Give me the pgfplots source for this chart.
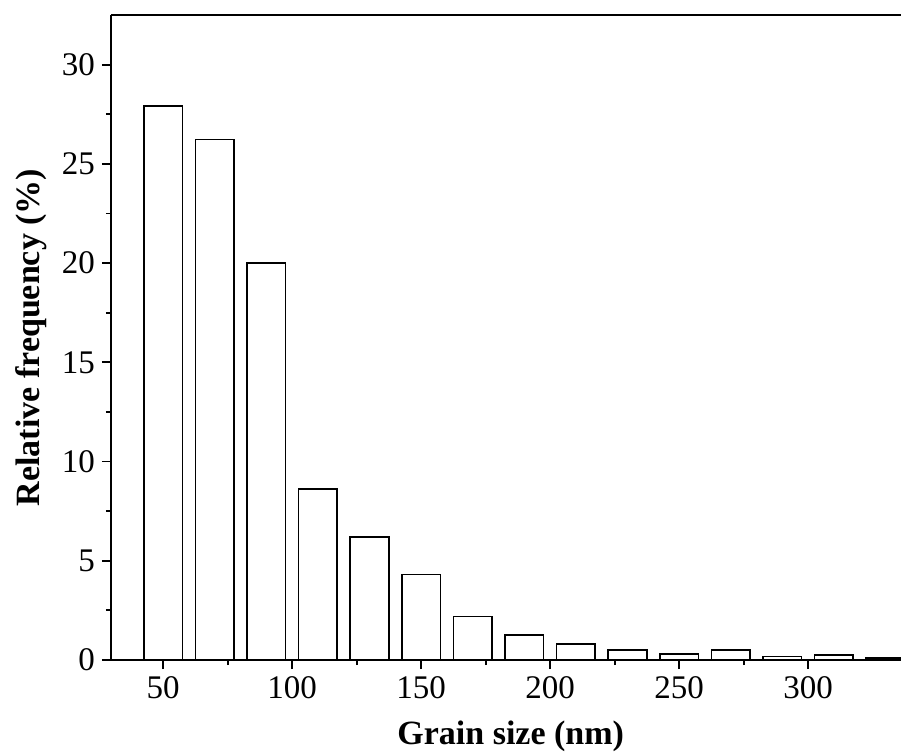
\documentclass[border=0pt]{standalone}
\usepackage{fontspec}
\setmainfont{Liberation Serif}
\usepackage{pgfplots}
\pgfplotsset{compat=1.18}
\begin{document}
\begin{tikzpicture}
\begin{axis}[
  name=ax,
  scale only axis,
  width=395pt, height=322.5pt,
  xmin=29.8, xmax=336,
  ymin=0, ymax=32.5,
  axis x line=box, axis y line=left,
  axis line style={-, line width=1pt},
  tick pos=left,
  tick align=outside,
  major tick length=4.5pt,
  minor tick length=2.5pt,
  every tick/.style={black, line width=0.9pt},
  xtick={50,100,...,300},
  ytick={0,5,...,30},
  minor x tick num=1,
  minor y tick num=1,
  /pgf/number format/assume math mode=true,
  tick label style={font=\fontsize{16.5}{16.5}\selectfont},
  xlabel={\textbf{Grain size (nm)}},
  ylabel={\textbf{Relative frequency (\%)}},
  label style={font=\fontsize{17}{17}\selectfont},
  x label style={at={(axis description cs:0.506,0)}, anchor=base, yshift=-42pt},
  y label style={at={(axis description cs:0,0.5)}, anchor=center, yshift=40pt},
  clip=true,
]
\addplot[ybar, bar width=15, fill=white, draw=black, line width=0.8pt] coordinates {
(50,27.9) (70,26.23) (90,20.0) (110,8.61) (130,6.19) (150,4.31) (170,2.19)
(190,1.26) (210,0.82) (230,0.51) (250,0.31) (270,0.51) (290,0.18) (310,0.26) (330,0.09)
};
\end{axis}
\pgfresetboundingbox
\path[use as bounding box] ([xshift=-55.5pt,yshift=-45.5pt]ax.south west) rectangle ([yshift=7.5pt]ax.north east);
\end{tikzpicture}
\end{document}
